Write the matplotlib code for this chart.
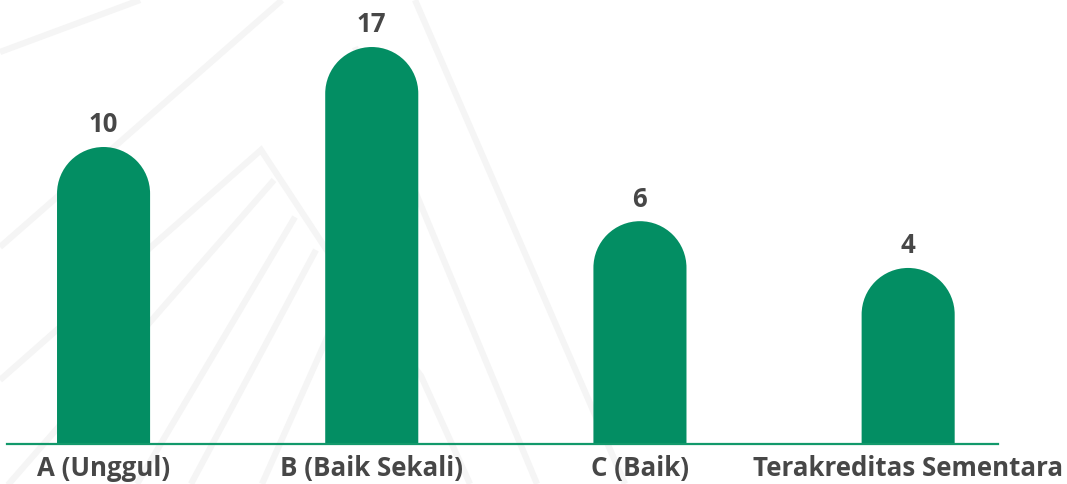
import numpy as np
import matplotlib
matplotlib.use("Agg")
import matplotlib.pyplot as plt
from matplotlib.patches import PathPatch
from matplotlib.path import Path
from matplotlib.ticker import NullLocator

# ---- data ----
categories = ["A (Unggul)", "B (Baik Sekali)", "C (Baik)", "Terakreditas Sementara"]
values = [10, 17, 6, 4]

# ---- styles ----
BAR_COLOR = "#038e63"
LINE_COLOR = "#12996b"
TEXT_COLOR = "#474747"
BG_LINE = "#f5f5f5"

plt.rcParams["font.family"] = ["Open Sans", "DejaVu Sans"]

W, H = 1067, 484
fig = plt.figure(figsize=(W / 100, H / 100), dpi=100)
fig.patch.set_facecolor("white")

# faint decorative background lines (pixel coordinates)
bg = fig.add_axes([0, 0, 1, 1], zorder=0)
bg.set_xlim(0, W)
bg.set_ylim(H, 0)
bg.axis("off")
decor = [
    [(0, 52), (140, 0)],
    [(0, 247), (282, 0)],
    [(0, 380), (261, 150), (330, 255), (421, 376), (470, 484)],
    [(274, 180), (0, 494)],
    [(295, 217), (137, 484)],
    [(316, 250), (191, 484)],
    [(335, 320), (262, 484)],
    [(355, 47), (537, 484)],
    [(415, 0), (625, 484)],
]
for pts in decor:
    xs, ys = zip(*pts)
    bg.plot(xs, ys, color=BG_LINE, lw=4.5, solid_capstyle="butt", solid_joinstyle="miter")

# main axes
base_px = 444
ax = fig.add_axes([7 / W, (H - base_px) / H, (998 - 7) / W, base_px / H], zorder=1)
ax.patch.set_alpha(0)
ax.set_yscale("function", functions=(lambda y: np.sqrt(np.clip(y, 0, None)), lambda y: np.square(y)))
ax.set_ylim(0.095, 20.93)
ax.set_xlim(-0.36, 3.335)

x = np.arange(len(categories))
bars = ax.bar(x, values, width=0.347, color=BAR_COLOR, zorder=1)

# replace rectangles with rounded-top pills in display space
arc = Path.arc(0, 180)
for b in bars:
    x0, x1 = b.get_x(), b.get_x() + b.get_width()
    (px0, py0), (px1, py1) = ax.transData.transform([(x0, ax.get_ylim()[0]), (x1, b.get_height())])
    r = (px1 - px0) / 2
    cx, cy = (px0 + px1) / 2, py1 - r
    bottom = py0 - 3
    verts = [(px1, bottom)] + [tuple(v) for v in (arc.vertices * r + [cx, cy])] + [(px0, bottom), (px1, bottom)]
    codes = [Path.MOVETO] + [Path.LINETO] + list(arc.codes[1:]) + [Path.LINETO, Path.CLOSEPOLY]
    pill = PathPatch(Path(verts, codes), transform=None, facecolor=BAR_COLOR,
                     edgecolor="none", zorder=1, snap=False)
    ax.add_patch(pill)
    b.set_visible(False)

for xi, v in zip(x, values):
    ax.annotate(str(v), xy=(xi, v), xytext=(0, 10.5), textcoords="offset points",
                ha="center", va="baseline", fontsize=18.5, fontweight="bold", color=TEXT_COLOR)

for s in ["top", "right", "left"]:
    ax.spines[s].set_visible(False)
ax.spines["bottom"].set_color(LINE_COLOR)
ax.spines["bottom"].set_linewidth(1.6)
ax.spines["bottom"].set_zorder(3)

ax.set_yticks([])
ax.yaxis.set_minor_locator(NullLocator())
ax.set_xticks(x, categories)
ax.tick_params(axis="x", length=0, pad=8, labelsize=18.6, labelcolor=TEXT_COLOR)
for lab in ax.get_xticklabels():
    lab.set_fontweight("bold")

fig.savefig("out.png", dpi=100)
